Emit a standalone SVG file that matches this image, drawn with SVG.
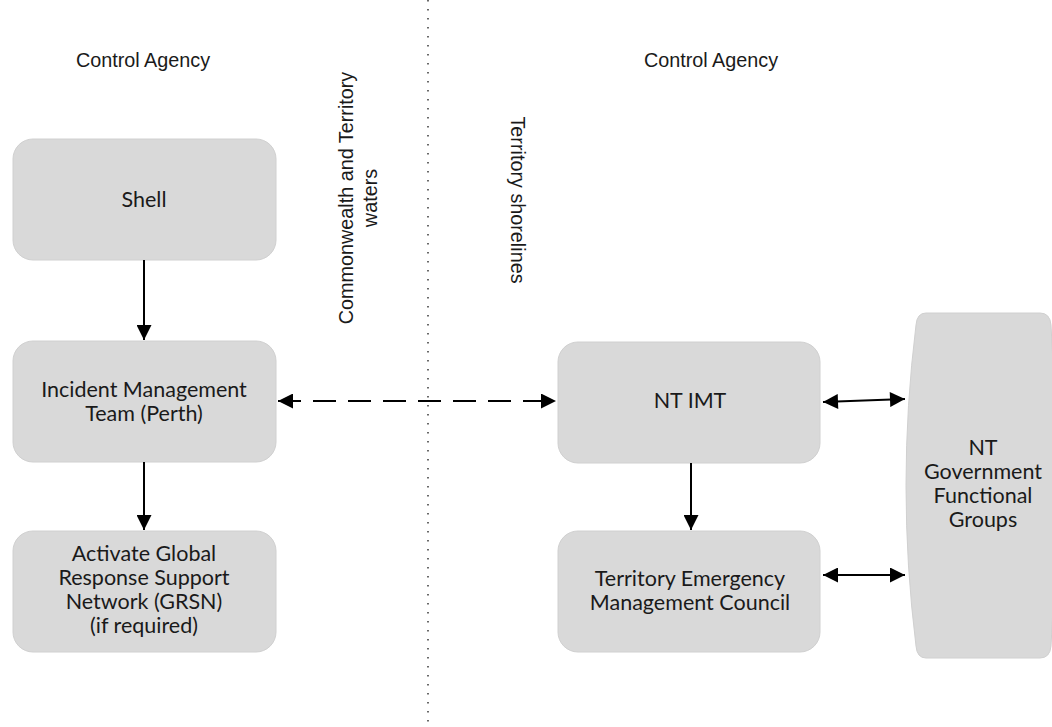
<svg xmlns="http://www.w3.org/2000/svg" width="1052" height="727" viewBox="0 0 1052 727">
<defs>
<style>
.box{fill:#d9d9d9;stroke:#d0d0d0;stroke-width:1}
.nt{font-family:Lato,"Open Sans","Liberation Sans",sans-serif;font-size:21.5px;fill:#1a1a1a;text-anchor:middle}
.lb{font-family:"Liberation Sans",Arial,sans-serif;font-size:19.8px;fill:#1a1a1a;text-anchor:middle}
.ln{stroke:#000;stroke-width:2;fill:none}
</style>
<marker id="ah" viewBox="0 0 10 10" refX="10" refY="5" markerWidth="8" markerHeight="7.5" markerUnits="strokeWidth" orient="auto-start-reverse">
<path d="M0,0 L10,5 L0,10 z" fill="#000"/>
</marker>
</defs>
<rect width="1052" height="727" fill="#fff"/>
<line x1="428" y1="0" x2="428" y2="727" stroke="#444" stroke-width="1.6" stroke-dasharray="1.6 7.4"/>
<g id="labels">
<text class="lb" x="143" y="67">Control Agency</text>
<text class="lb" x="711" y="67">Control Agency</text>
<text class="lb" transform="translate(353,198) rotate(-90)">Commonwealth and Territory</text>
<text class="lb" transform="translate(377,198) rotate(-90)">waters</text>
<text class="lb" transform="translate(511,200) rotate(90)">Territory shorelines</text>
</g>
<g id="shell"><rect class="box" x="13" y="139" width="263" height="121" rx="20"/><text class="nt" x="144" y="207">Shell</text></g>
<g id="imt-perth"><rect class="box" x="13" y="341" width="263" height="121" rx="20"/><text class="nt" x="144" y="397">Incident Management</text><text class="nt" x="144" y="421">Team (Perth)</text></g>
<g id="grsn"><rect class="box" x="13" y="531" width="263" height="121" rx="20"/><text class="nt" x="144" y="561">Activate Global</text><text class="nt" x="144" y="585">Response Support</text><text class="nt" x="144" y="609">Network (GRSN)</text><text class="nt" x="144" y="633">(if required)</text></g>
<g id="nt-imt"><rect class="box" x="558" y="342" width="262" height="121" rx="20"/><text class="nt" x="690" y="408">NT IMT</text></g>
<g id="temc"><rect class="box" x="558" y="531" width="262" height="121" rx="20"/><text class="nt" x="690" y="586">Territory Emergency</text><text class="nt" x="690" y="610">Management Council</text></g>
<g id="ntgov"><path class="box" d="M926,313 L1040,313 Q1050,313 1051,325 Q1062,486 1051,646 Q1050,658 1040,658 L926,658 Q917,658 916,646 Q896,486 916,325 Q917,313 926,313 Z"/><text class="nt" x="983" y="455">NT</text><text class="nt" x="983" y="479">Government</text><text class="nt" x="983" y="503">Functional</text><text class="nt" x="983" y="527">Groups</text></g>
<g id="connectors">
<line class="ln" x1="144" y1="260" x2="144" y2="340" marker-end="url(#ah)"/>
<line class="ln" x1="144" y1="462" x2="144" y2="530" marker-end="url(#ah)"/>
<line class="ln" x1="691" y1="463" x2="691" y2="530" marker-end="url(#ah)"/>
<line class="ln" x1="278" y1="401" x2="556" y2="401" stroke-dasharray="23 12" marker-start="url(#ah)" marker-end="url(#ah)"/>
<line class="ln" x1="823" y1="402" x2="905" y2="399" marker-start="url(#ah)" marker-end="url(#ah)"/>
<line class="ln" x1="823" y1="575" x2="905" y2="575" marker-start="url(#ah)" marker-end="url(#ah)"/>
</g>
</svg>
